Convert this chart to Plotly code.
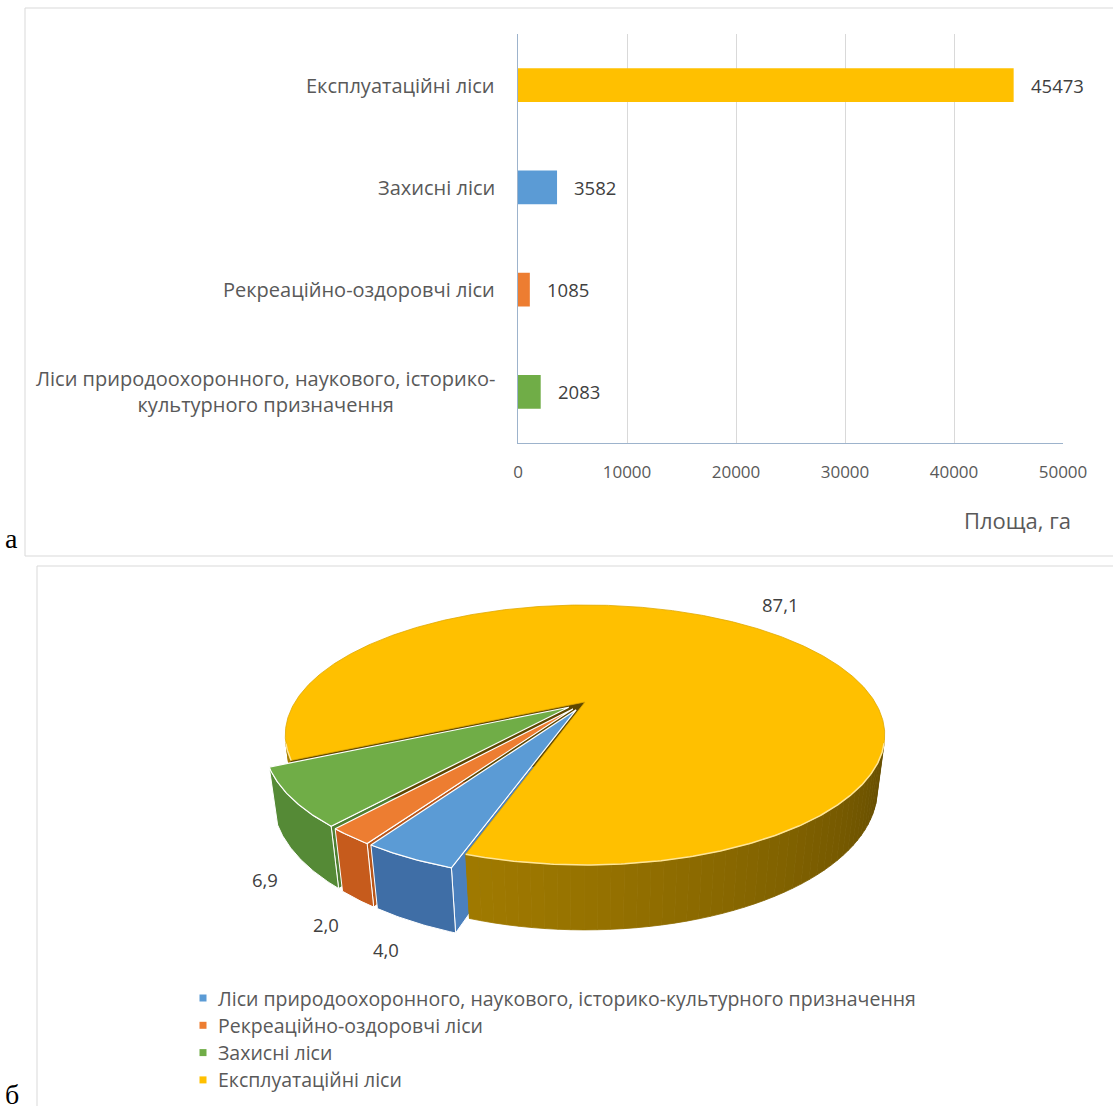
import numpy as np
import plotly.graph_objects as go

W, H = 1113, 1106

# ---------------- data ----------------
bar_categories = [
    "Експлуатаційні ліси",
    "Захисні ліси",
    "Рекреаційно-оздоровчі ліси",
    "Ліси природоохоронного, наукового, історико-культурного призначення",
]
bar_tick_text = [
    "Експлуатаційні ліси",
    "Захисні ліси",
    "Рекреаційно-оздоровчі ліси",
    "Ліси природоохоронного, наукового, історико-<br>культурного призначення",
]
bar_values = [45473, 3582, 1085, 2083]
bar_colors = ["#FFC000", "#5B9BD5", "#ED7D31", "#70AD47"]
x_tick_values = [0, 10000, 20000, 30000, 40000, 50000]
x_axis_title = "Площа, га"

pie_labels = [
    "Ліси природоохоронного, наукового, історико-культурного призначення",
    "Рекреаційно-оздоровчі ліси",
    "Захисні ліси",
    "Експлуатаційні ліси",
]
pie_values = [4.0, 2.0, 6.9, 87.1]
pie_text = ["4,0", "2,0", "6,9", "87,1"]
pie_top_colors = ["#5B9BD5", "#ED7D31", "#70AD47", "#FFC000"]
pie_side_colors = ["#3F6EA6", "#C65B1C", "#558A36", None]
pie_wall_colors = ["#4B80BD", "#B8561A", "#4F7F31", "#5E4700"]
pie_exploded = [True, True, True, False]

FONT = "'Open Sans', Lato, sans-serif"
GREY = "#595959"


def px(x):
    return x / W


def py(y):
    return 1 - y / H


fig = go.Figure()

# ---------------- (a) horizontal bar chart ----------------
PLOT_L, PLOT_R, PLOT_T, PLOT_B = 518, 1063, 34, 443

fig.add_trace(go.Bar(
    x=bar_values, y=bar_categories, orientation="h",
    marker=dict(color=bar_colors, line=dict(width=0)),
    xaxis="x", yaxis="y", showlegend=False, hoverinfo="x+y",
))

fig.update_layout(
    xaxis=dict(domain=[px(PLOT_L), px(PLOT_R)], range=[0, 50000],
               tickvals=x_tick_values, tickformat="d", showgrid=True,
               gridcolor="#D9D9D9", gridwidth=1, zeroline=False, showline=True,
               linecolor="#9DB3CC", linewidth=1, ticks="", ticklabelstandoff=14,
               tickfont=dict(family=FONT, size=17, color=GREY),
               automargin=False, anchor="y", fixedrange=True),
    yaxis=dict(domain=[py(PLOT_B), py(PLOT_T)], categoryorder="array",
               categoryarray=bar_categories, autorange="reversed",
               showticklabels=False, showgrid=False, zeroline=False,
               showline=True, linecolor="#9DB3CC", linewidth=1, ticks="",
               automargin=False, anchor="x", fixedrange=True),
    bargap=0.67,
)

annotations = []
# category labels (right-aligned block, centred lines)
for cat, txt in zip(bar_categories, bar_tick_text):
    annotations.append(dict(
        x=px(497), xref="paper", y=cat, yref="y", text=txt, showarrow=False,
        xanchor="right", yanchor="middle", align="center",
        font=dict(family=FONT, size=20, color=GREY)))
# value labels at the end of each bar
for cat, v in zip(bar_categories, bar_values):
    annotations.append(dict(
        x=v, xref="x", y=cat, yref="y", text=str(v), showarrow=False,
        xanchor="left", yanchor="middle", xshift=15,
        font=dict(family=FONT, size=18.5, color="#404040")))
# axis title
annotations.append(dict(
    x=px(1073), y=py(520), xref="paper", yref="paper", text=x_axis_title,
    showarrow=False, xanchor="right", yanchor="middle",
    font=dict(family=FONT, size=22, color=GREY)))

# ---------------- (б) 3-D pie chart ----------------
# perspective camera
CX, CY = 585.0, 702.0          # screen position of the pie centre
K = 1038.0                     # focal scale
DIST = 3.58                    # camera distance (pie radius = 1)
ALPHA = np.radians(24.8)       # elevation
THICK = 0.205                  # pie height
EXPL = 0.07                    # explosion distance of pulled slices
FIRST_ANGLE = 198.2            # angle of first slice, clockwise from 12 o'clock
CA, SA = np.cos(ALPHA), np.sin(ALPHA)


def project(x, y, z):
    x = np.asarray(x, float)
    y = np.asarray(y, float)
    z = np.asarray(z, float)
    qy = y + DIST * CA
    qz = z - DIST * SA
    d = qy * CA - qz * SA
    up = qy * SA + qz * CA
    return CX + K * x / d, CY - K * up / d


def rim(theta_deg, r, z, shift):
    t = np.radians(theta_deg)
    return project(shift[0] + r * np.sin(t), shift[1] + r * np.cos(t),
                   np.full_like(t, z, dtype=float))


def poly(xs, ys, fill, line_color=None, line_width=0.0):
    xs = list(np.asarray(xs).ravel())
    ys = list(np.asarray(ys).ravel())
    fig.add_trace(go.Scatter(
        x=xs + [xs[0]], y=ys + [ys[0]], mode="lines", fill="toself",
        fillcolor=fill,
        line=dict(color=line_color or fill, width=line_width),
        xaxis="x2", yaxis="y2", showlegend=False, hoverinfo="skip"))


def mix(c1, c2, t):
    a = [int(c1[i:i + 2], 16) for i in (1, 3, 5)]
    b = [int(c2[i:i + 2], 16) for i in (1, 3, 5)]
    return "rgb({},{},{})".format(*[round(a[i] + (b[i] - a[i]) * t) for i in range(3)])


total = sum(pie_values)
spans = [v / total * 360.0 for v in pie_values]
starts = FIRST_ANGLE + np.concatenate([[0], np.cumsum(spans)[:-1]])
slices = []
for i, (a, s) in enumerate(zip(starts, spans)):
    b = a + s
    m = a + s / 2
    shift = (EXPL * np.sin(np.radians(m)), EXPL * np.cos(np.radians(m))) if pie_exploded[i] else (0.0, 0.0)
    slices.append(dict(a=a, b=b, m=m, shift=shift))


def side_visible(theta_deg, shift):
    t = np.radians(theta_deg)
    nx, ny = np.sin(t), np.cos(t)
    val = (shift[0] + nx) * nx + (shift[1] + ny + DIST * CA) * ny
    return val < 0


def visible_runs(a, b, shift, step=0.5):
    th = np.arange(a, b + 1e-9, step)
    if th[-1] < b:
        th = np.append(th, b)
    vis = side_visible(th, shift)
    runs, cur = [], []
    for t, v in zip(th, vis):
        if v:
            cur.append(t)
        elif cur:
            runs.append(cur)
            cur = []
    if cur:
        runs.append(cur)
    return [np.array(r) for r in runs if len(r) > 1]


def draw_walls(i, edge_color, width):
    sl = slices[i]
    sx, sy = sl["shift"]
    for ang, sign in ((sl["a"], 1), (sl["b"], -1)):
        t = np.radians(ang)
        nx, ny = -sign * np.cos(t), sign * np.sin(t)
        val = sx * nx + (sy + DIST * CA) * ny
        if val >= 0:
            continue
        ox, oy = project([sx, sx], [sy, sy], [0, -THICK])
        rx_, ry_ = project([sx + np.sin(t)] * 2, [sy + np.cos(t)] * 2, [0, -THICK])
        poly([ox[0], rx_[0], rx_[1], ox[1]], [oy[0], ry_[0], ry_[1], oy[1]],
             pie_wall_colors[i], edge_color, width)


def draw_side(i, edge_color, width, gradient=None):
    sl = slices[i]
    for run in visible_runs(sl["a"], sl["b"], sl["shift"]):
        if gradient is None:
            tx, ty = rim(run, 1, 0, sl["shift"])
            bx, by = rim(run[::-1], 1, -THICK, sl["shift"])
            poly(np.concatenate([tx, bx]), np.concatenate([ty, by]),
                 pie_side_colors[i], edge_color, width)
        else:
            dark, bright, light_dir = gradient
            for k in range(0, len(run) - 1, 4):
                seg = run[k:k + 5]
                if len(seg) < 2:
                    continue
                tx, ty = rim(seg, 1, 0, sl["shift"])
                bx, by = rim(seg[::-1], 1, -THICK, sl["shift"])
                tm = (1 + np.cos(np.radians(seg.mean() - light_dir))) / 2
                col = mix(dark, bright, tm)
                poly(np.concatenate([tx, bx]), np.concatenate([ty, by]), col, col, 0.8)


def draw_top(i, edge_color, width):
    sl = slices[i]
    th = np.linspace(sl["a"], sl["b"], max(8, int((sl["b"] - sl["a"]) * 2)))
    rx_, ry_ = rim(th, 1, 0, sl["shift"])
    ox, oy = project(sl["shift"][0], sl["shift"][1], 0)
    poly(np.concatenate([[ox], rx_]), np.concatenate([[oy], ry_]),
         pie_top_colors[i], edge_color, width)


small = [2, 1, 0]          # back to front
BIG = 3
# walls of pulled slices seen through the gaps
for i in small:
    draw_walls(i, "#FFFFFF", 1.0)
# large slice body
draw_side(BIG, None, 0, gradient=("#564100", "#A88000", 235.0))
draw_walls(BIG, "#4A3800", 1.0)
# pulled slices' sides
for i in small:
    draw_side(i, "#FFFFFF", 1.0)
# top faces
draw_top(BIG, "#E0A800", 0.8)
for run in visible_runs(slices[BIG]["a"], slices[BIG]["b"], (0, 0)):
    hx, hy = rim(run, 1, 0, (0, 0))
    fig.add_trace(go.Scatter(x=hx, y=hy, mode="lines",
                             line=dict(color="#FFE699", width=1.5),
                             xaxis="x2", yaxis="y2", showlegend=False, hoverinfo="skip"))
for i in small:
    draw_top(i, "#FFFFFF", 1.2)

# data labels: label box corner touches a point just outside the slice edge
for i, sl in enumerate(slices):
    t = np.radians(sl["m"])
    front = np.cos(t) < 0
    r_lab, z_lab = (1.06, -THICK) if front else (1.1, 0.0)
    lx, ly = project(sl["shift"][0] + r_lab * np.sin(t),
                     sl["shift"][1] + r_lab * np.cos(t), z_lab)
    annotations.append(dict(
        x=float(lx), y=float(ly), xref="x2", yref="y2", text=pie_text[i],
        showarrow=False,
        xanchor="right" if np.sin(t) < 0 else "left",
        yanchor="top" if front else "bottom",
        font=dict(family=FONT, size=18.5, color="#404040")))

# legend
LEG_X, LEG_Y0, LEG_STEP = 203, 998, 27.3
fig.add_trace(go.Scatter(
    x=[LEG_X] * len(pie_labels),
    y=[LEG_Y0 + k * LEG_STEP for k in range(len(pie_labels))],
    mode="markers", marker=dict(symbol="square", size=7, color=pie_top_colors),
    xaxis="x2", yaxis="y2", showlegend=False, hoverinfo="skip"))
for k, lab in enumerate(pie_labels):
    annotations.append(dict(
        x=LEG_X + 13, y=LEG_Y0 + k * LEG_STEP, xref="x2", yref="y2", text=lab,
        showarrow=False, xanchor="left", yanchor="middle",
        font=dict(family=FONT, size=19.5, color=GREY)))

PIE_TOP = 566
fig.update_layout(
    xaxis2=dict(domain=[0, 1], range=[0, W], visible=False, fixedrange=True,
                automargin=False, anchor="y2"),
    yaxis2=dict(domain=[0, py(PIE_TOP)], range=[H, PIE_TOP], visible=False,
                fixedrange=True, automargin=False, anchor="x2"),
)

# panel frames (open on the right, where the panels run off the page) and captions
FRAME = dict(color="#D9D9D9", width=1)
shapes = [
    dict(type="line", xref="paper", yref="paper", x0=px(25), x1=1, y0=py(8), y1=py(8), line=FRAME),
    dict(type="line", xref="paper", yref="paper", x0=px(25), x1=1, y0=py(556), y1=py(556), line=FRAME),
    dict(type="line", xref="paper", yref="paper", x0=px(25), x1=px(25), y0=py(8), y1=py(556), line=FRAME),
    dict(type="line", xref="paper", yref="paper", x0=px(37), x1=1, y0=py(566), y1=py(566), line=FRAME),
    dict(type="line", xref="paper", yref="paper", x0=px(37), x1=px(37), y0=py(566), y1=0, line=FRAME),
]
annotations.append(dict(x=px(3), y=py(556), xref="paper", yref="paper", text="а",
                        showarrow=False, xanchor="left", yanchor="bottom",
                        font=dict(family="Liberation Serif, serif", size=28, color="#000000")))
annotations.append(dict(x=px(3), y=py(1112), xref="paper", yref="paper", text="б",
                        showarrow=False, xanchor="left", yanchor="bottom",
                        font=dict(family="Liberation Serif, serif", size=28, color="#000000")))

fig.update_layout(
    width=W, height=H, margin=dict(l=0, r=0, t=0, b=0, autoexpand=False),
    paper_bgcolor="#FFFFFF", plot_bgcolor="rgba(0,0,0,0)",
    annotations=annotations, shapes=shapes, showlegend=False,
)

fig.write_html("out.html", config={"displayModeBar": False})
